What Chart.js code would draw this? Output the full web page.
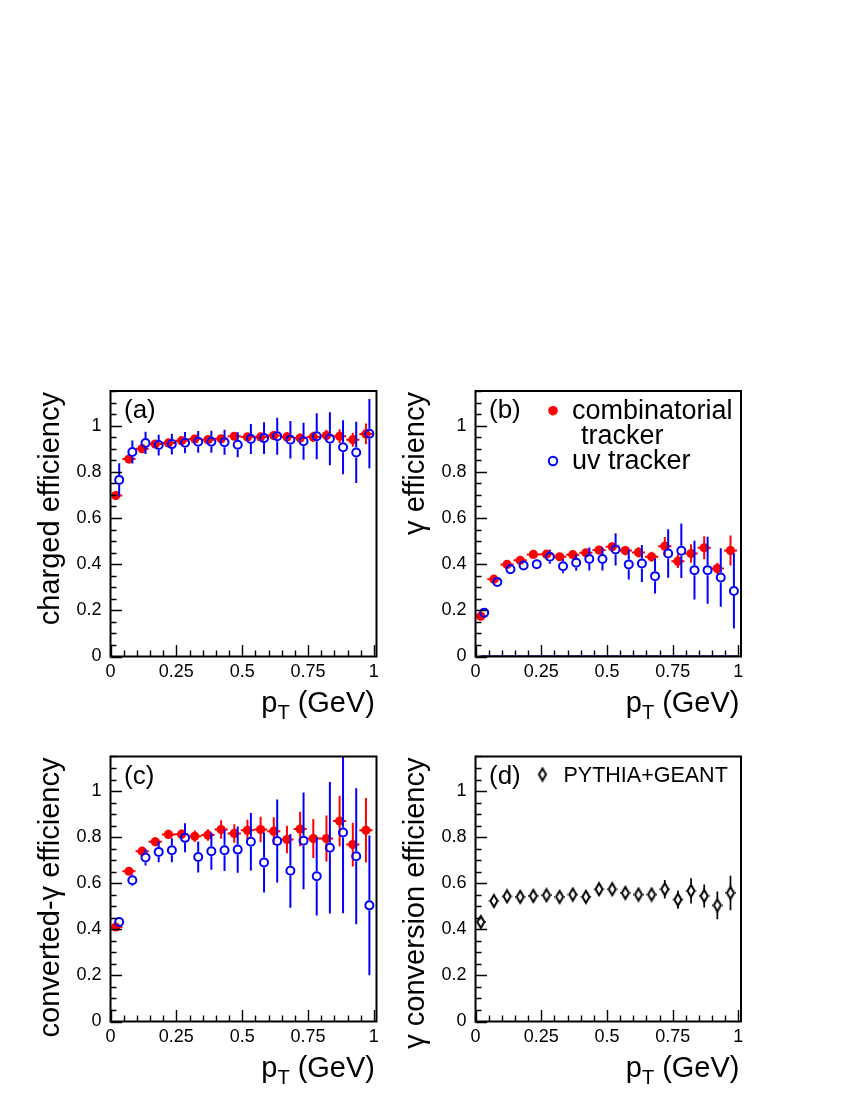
<!DOCTYPE html>
<html><head><meta charset="utf-8">
<script src="https://cdn.jsdelivr.net/npm/chart.js@4/dist/chart.umd.min.js"></script>
<style>
html,body{margin:0;padding:0;background:#fff;}
#wrap{position:relative;width:850px;height:1100px;overflow:hidden;}
canvas{position:absolute;}
</style></head><body><div id="wrap">
<canvas id="ca" width="400" height="360" style="left:0px;top:370px;width:400px;height:360px"></canvas>
<canvas id="cb" width="400" height="360" style="left:365px;top:370px;width:400px;height:360px"></canvas>
<canvas id="cc" width="400" height="360" style="left:0px;top:735px;width:400px;height:360px"></canvas>
<canvas id="cd" width="400" height="360" style="left:365px;top:735px;width:400px;height:360px"></canvas>
</div>
<script>
// ---------------- DATA ----------------
const pT = [0.025,0.075,0.125,0.175,0.225,0.275,0.325,0.375,0.425,0.475,0.525,0.575,0.625,0.675,0.725,0.775,0.825,0.875,0.925,0.975];
const binHalfWidth = 0.025;
const xTickValues = [0, 0.25, 0.5, 0.75, 1];
const yTickValues = [0, 0.2, 0.4, 0.6, 0.8, 1];

const chargedComb    = [0.697,0.855,0.900,0.920,0.925,0.935,0.942,0.939,0.943,0.954,0.951,0.951,0.957,0.951,0.946,0.951,0.957,0.954,0.939,0.964];
const chargedCombErr = [0.012,0.012,0.012,0.012,0.012,0.012,0.013,0.013,0.014,0.015,0.016,0.017,0.018,0.020,0.020,0.022,0.025,0.030,0.030,0.045];
const chargedUv      = [0.765,0.886,0.925,0.916,0.920,0.926,0.930,0.930,0.928,0.917,0.942,0.946,0.954,0.939,0.932,0.954,0.943,0.906,0.884,0.965];
const chargedUvErr   = [0.072,0.050,0.048,0.045,0.045,0.046,0.047,0.048,0.054,0.054,0.065,0.069,0.080,0.081,0.080,0.100,0.115,0.117,0.133,0.150];

const gammaComb      = [0.174,0.335,0.399,0.417,0.442,0.443,0.432,0.441,0.449,0.461,0.475,0.459,0.451,0.432,0.478,0.413,0.446,0.471,0.381,0.459];
const gammaCombErr   = [0.010,0.012,0.012,0.012,0.013,0.013,0.013,0.014,0.015,0.016,0.018,0.020,0.022,0.022,0.040,0.030,0.040,0.050,0.025,0.065];
const gammaUv        = [0.190,0.323,0.378,0.394,0.400,0.432,0.391,0.406,0.422,0.422,0.464,0.399,0.403,0.348,0.446,0.458,0.374,0.374,0.342,0.284];
const gammaUvErr     = [0.012,0.012,0.015,0.015,0.020,0.030,0.030,0.035,0.050,0.050,0.070,0.065,0.080,0.075,0.105,0.118,0.127,0.145,0.127,0.163];

const convComb       = [0.410,0.652,0.739,0.780,0.812,0.813,0.804,0.809,0.833,0.816,0.830,0.833,0.826,0.790,0.835,0.794,0.794,0.870,0.768,0.830];
const convCombErr    = [0.010,0.015,0.018,0.020,0.020,0.020,0.025,0.025,0.040,0.040,0.045,0.055,0.060,0.060,0.075,0.085,0.100,0.110,0.095,0.140];
const convUv         = [0.432,0.613,0.712,0.736,0.743,0.797,0.714,0.739,0.743,0.746,0.780,0.690,0.783,0.654,0.784,0.630,0.754,0.820,0.717,0.504];
const convUvErr      = [0.015,0.025,0.035,0.045,0.052,0.063,0.067,0.080,0.090,0.100,0.125,0.130,0.180,0.160,0.210,0.170,0.285,0.350,0.295,0.303];

const convProb       = [0.432,0.523,0.543,0.541,0.545,0.548,0.541,0.551,0.541,0.574,0.574,0.558,0.551,0.551,0.574,0.529,0.567,0.545,0.504,0.558];
const convProbErr    = [0.010,0.012,0.012,0.012,0.012,0.012,0.012,0.013,0.013,0.015,0.015,0.020,0.025,0.025,0.040,0.040,0.055,0.050,0.060,0.075];

const seriesNames = ['combinatorial', 'tracker', 'uv tracker', 'PYTHIA+GEANT'];

// ---------------- STYLE ----------------
const FONT = "'Liberation Sans', Arial, Helvetica, sans-serif";
const RED = '#ff0000', BLUE = '#0000ff', BLACK = '#000000';
const DODGE_RED = -0.005, DODGE_BLUE = 0.008;

function makeDiamond() {
  const c = document.createElement('canvas');
  c.width = 12; c.height = 16;
  const g = c.getContext('2d');
  g.strokeStyle = '#000'; g.lineWidth = 2;
  g.beginPath(); g.moveTo(6, 2); g.lineTo(9.5, 8); g.lineTo(6, 14); g.lineTo(2.5, 8); g.closePath(); g.stroke();
  return c;
}
const diamondImg = makeDiamond();

function pts(vals, dx) { return pT.map((p, i) => ({ x: p + dx, y: vals[i] })); }

function combDs(vals, errs) {
  return { data: pts(vals, DODGE_RED), yerr: errs, xerr: binHalfWidth, gap: 0, barColor: RED,
    pointStyle: 'circle', pointRadius: 4.6, pointBackgroundColor: RED, pointBorderColor: RED, pointBorderWidth: 0,
    showLine: false, order: 2 };
}
function uvDs(vals, errs) {
  return { data: pts(vals, DODGE_BLUE), yerr: errs, xerr: 0, gap: 5, barColor: BLUE,
    pointStyle: 'circle', pointRadius: 4, pointBackgroundColor: 'rgba(0,0,0,0)', pointBorderColor: BLUE, pointBorderWidth: 2,
    showLine: false, order: 1 };
}
function probDs(vals, errs) {
  return { data: pts(vals, DODGE_RED), yerr: errs, xerr: 0.02, gap: 6, gapX: 4.5, barColor: BLACK, barWidth: 1.7,
    pointStyle: diamondImg, pointRadius: 5, showLine: false, order: 1 };
}

const rootPlugin = {
  id: 'rootStyle',
  beforeDatasetDraw(chart, args) {
    const ds = chart.data.datasets[args.index];
    if (!ds.yerr) return;
    const ctx = chart.ctx, xs = chart.scales.x, ys = chart.scales.y, a = chart.chartArea;
    ctx.save();
    ctx.beginPath(); ctx.rect(a.left, a.top, a.right - a.left, a.bottom - a.top); ctx.clip();
    ctx.strokeStyle = ds.barColor; ctx.lineWidth = ds.barWidth || 2;
    ds.data.forEach((d, i) => {
      const px = xs.getPixelForValue(d.x), py = ys.getPixelForValue(d.y);
      const y1 = ys.getPixelForValue(d.y + ds.yerr[i]), y2 = ys.getPixelForValue(d.y - ds.yerr[i]);
      const g = ds.gap;
      ctx.beginPath();
      if (py - y1 > g) { ctx.moveTo(px, py - g); ctx.lineTo(px, y1); }
      if (y2 - py > g) { ctx.moveTo(px, py + g); ctx.lineTo(px, y2); }
      if (ds.xerr) {
        const x1 = xs.getPixelForValue(d.x - ds.xerr), x2 = xs.getPixelForValue(d.x + ds.xerr);
        const gx = ds.gapX || 0;
        ctx.moveTo(x1, py); ctx.lineTo(px - gx, py);
        ctx.moveTo(px + gx, py); ctx.lineTo(x2, py);
      }
      ctx.stroke();
    });
    ctx.restore();
  },
  afterDraw(chart) {
    const o = chart.options.plugins.rootStyle;
    const ctx = chart.ctx, xs = chart.scales.x, ys = chart.scales.y, a = chart.chartArea;
    ctx.save();
    // ticks
    ctx.strokeStyle = '#000'; ctx.lineWidth = 1.4;
    ctx.beginPath();
    for (let k = 0; k <= 23; k++) {
      const v = k * 0.05; if (v > 1.1501) break;
      const py = Math.round(ys.getPixelForValue(v)) + 0.5;
      const len = (k % 4 === 0) ? 11.5 : 6;
      ctx.moveTo(a.left, py); ctx.lineTo(a.left + len, py);
    }
    for (let k = 0; k <= 20; k++) {
      const v = k * 0.05;
      const px = Math.round(xs.getPixelForValue(v)) + 0.5;
      const len = (k % 5 === 0) ? 11.5 : 6;
      ctx.moveTo(px, a.bottom); ctx.lineTo(px, a.bottom - len);
    }
    ctx.stroke();
    if (o.navyBottom) {
      ctx.strokeStyle = '#1010a0'; ctx.lineWidth = 1.6;
      ctx.beginPath(); ctx.moveTo(xs.getPixelForValue(0.02), a.bottom - 0.5); ctx.lineTo(xs.getPixelForValue(1.0), a.bottom - 0.5); ctx.stroke();
    }
    // frame
    ctx.strokeStyle = '#000'; ctx.lineWidth = 2;
    ctx.strokeRect(a.left, a.top, a.right - a.left, a.bottom - a.top);
    // y title
    ctx.fillStyle = '#000';
    ctx.font = '29px ' + FONT;
    ctx.save();
    ctx.translate(a.left - 52, a.top + 1);
    ctx.rotate(-Math.PI / 2);
    ctx.textAlign = 'right'; ctx.textBaseline = 'alphabetic';
    ctx.fillText(o.yTitle, 0, 0);
    ctx.restore();
    // x title p_T (GeV)
    const big = '29px ' + FONT, small = '20px ' + FONT;
    ctx.textAlign = 'left'; ctx.textBaseline = 'alphabetic';
    ctx.font = big; const wp = ctx.measureText('p').width, wr = ctx.measureText(' (GeV)').width;
    ctx.font = small; const wt = ctx.measureText('T').width;
    let x0 = a.right - 1.5 - (wp + wt + wr);
    const by = a.bottom + 55.5;
    ctx.font = big; ctx.fillText('p', x0, by);
    ctx.font = small; ctx.fillText('T', x0 + wp, by + 7);
    ctx.font = big; ctx.fillText(' (GeV)', x0 + wp + wt, by);
    // panel label
    ctx.font = '26px ' + FONT;
    ctx.fillText(o.label, a.left + 13.5, a.top + 27);
    // legends
    if (o.legendComb) {
      ctx.font = '27px ' + FONT;
      ctx.fillStyle = RED;
      ctx.beginPath(); ctx.arc(a.left + 77.5, a.top + 19.7, 4.8, 0, Math.PI * 2); ctx.fill();
      ctx.strokeStyle = BLUE; ctx.lineWidth = 2;
      ctx.beginPath(); ctx.arc(a.left + 77.5, a.top + 70, 4.2, 0, Math.PI * 2); ctx.stroke();
      ctx.fillStyle = '#000';
      ctx.fillText(seriesNames[0], a.left + 96.5, a.top + 27.5);
      ctx.fillText(seriesNames[1], a.left + 105.5, a.top + 52.5);
      ctx.fillText(seriesNames[2], a.left + 96.5, a.top + 78);
    }
    if (o.legendProb) {
      ctx.drawImage(diamondImg, a.left + 67 - 6, a.top + 18 - 8);
      ctx.font = '21.5px ' + FONT; ctx.fillStyle = '#000';
      ctx.fillText(seriesNames[3], a.left + 88, a.top + 25);
    }
    ctx.restore();
  }
};

const W = 400, H = 360;
function makeChart(p) {
  new Chart(document.getElementById(p.id), {
    type: 'scatter',
    data: { datasets: p.datasets },
    options: {
      responsive: false, animation: false, devicePixelRatio: window.devicePixelRatio || 1,
      layout: { padding: { top: p.fT - p.top, right: p.left + W - p.fR, left: 0, bottom: 0 } },
      plugins: { legend: { display: false }, tooltip: { enabled: false },
        rootStyle: { yTitle: p.yTitle, label: p.label, legendComb: !!p.legendComb, legendProb: !!p.legendProb, navyBottom: !!p.navyBottom } },
      scales: {
        x: { type: 'linear', min: 0, max: 1.01,
          grid: { display: false, drawTicks: false }, border: { display: false },
          afterBuildTicks: s => { s.ticks = xTickValues.map(v => ({ value: v })); },
          afterFit: s => { s.height = p.top + H - p.fB; },
          ticks: { font: { family: FONT, size: 18 }, color: '#000', padding: 5, maxRotation: 0, minRotation: 0, autoSkip: false,
            callback: v => String(v) } },
        y: { type: 'linear', min: 0, max: 1.15,
          grid: { display: false, drawTicks: false }, border: { display: false },
          afterBuildTicks: s => { s.ticks = yTickValues.map(v => ({ value: v })); },
          afterFit: s => { s.width = p.fL - p.left; },
          ticks: { font: { family: FONT, size: 18 }, color: '#000', padding: 9, autoSkip: false,
            callback: v => String(v) } }
      }
    },
    plugins: [rootPlugin]
  });
}

makeChart({ id: 'ca', left: 0, top: 370, fL: 110.5, fT: 391, fR: 376.5, fB: 656.5, label: '(a)', yTitle: 'charged efficiency',
  datasets: [combDs(chargedComb, chargedCombErr), uvDs(chargedUv, chargedUvErr)] });
makeChart({ id: 'cb', left: 365, top: 370, fL: 475.5, fT: 391, fR: 741, fB: 656.5, label: '(b)', yTitle: 'γ efficiency', legendComb: true, navyBottom: true,
  datasets: [combDs(gammaComb, gammaCombErr), uvDs(gammaUv, gammaUvErr)] });
makeChart({ id: 'cc', left: 0, top: 735, fL: 110.5, fT: 756.5, fR: 376.5, fB: 1021.5, label: '(c)', yTitle: 'converted-γ efficiency',
  datasets: [combDs(convComb, convCombErr), uvDs(convUv, convUvErr)] });
makeChart({ id: 'cd', left: 365, top: 735, fL: 475.5, fT: 756.5, fR: 741, fB: 1021.5, label: '(d)', yTitle: 'γ conversion efficiency', legendProb: true,
  datasets: [probDs(convProb, convProbErr)] });
</script>
</body></html>
